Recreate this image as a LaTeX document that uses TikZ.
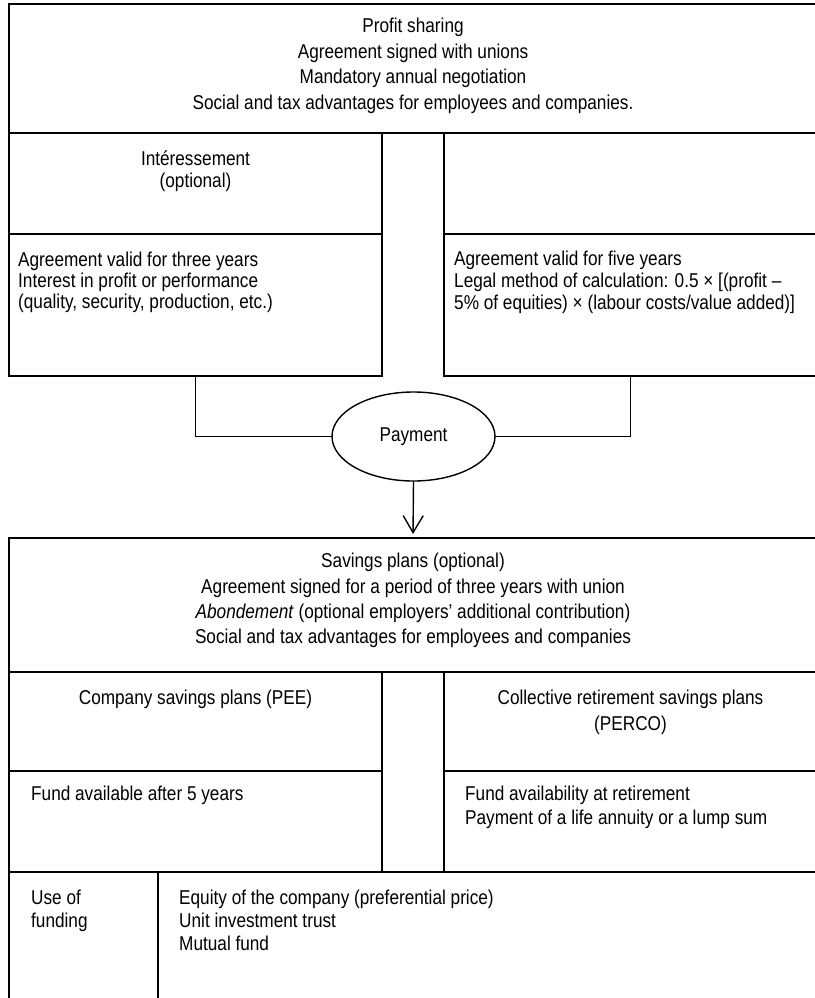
\documentclass[tikz,border=0pt]{standalone}
\usepackage{fontspec}
\setmainfont{Liberation Sans}[FakeStretch=0.86]
\usetikzlibrary{positioning, shapes.geometric, arrows.meta}

\begin{document}
\begin{tikzpicture}[
  x=1pt, y=-1pt,
  font=\fontsize{20}{24}\selectfont,
  box/.style={rectangle, draw=black, line width=1.4pt, inner sep=0pt, outer sep=0pt},
  wide/.style={minimum width=808pt},
  half/.style={minimum width=373pt},
  pay/.style={ellipse, draw=black, line width=1.4pt, inner sep=0pt, outer sep=0pt,
              minimum width=163pt, minimum height=89pt},
  ctxt/.style={inner sep=0pt, align=center, anchor=north},
  ltxt/.style={inner sep=0pt, align=left, anchor=north west},
  link/.style={line width=1.4pt, draw=black},
  arr/.style={-{Straight Barb[length=17pt, width=20pt, line width=1.4pt]}, line width=1.4pt, shorten >=4pt},
]
  \useasboundingbox (0,0) rectangle (814,998);

  % profit sharing part
  \node[box, wide, minimum height=129pt, anchor=north west] (profit) at (9,4) {};
  \node[box, half, minimum height=101pt, below right=0pt of profit.south west] (intHead) {};
  \node[box, half, minimum height=142pt, below=0pt of intHead] (intBody) {};
  \node[box, half, minimum height=101pt, below left=0pt of profit.south east] (partHead) {};
  \node[box, half, minimum height=142pt, below=0pt of partHead] (partBody) {};

  \node[ctxt, font=\fontsize{20}{25.5}\selectfont] (profitText) at ([yshift=-14pt]profit.north)
    {Profit sharing\\Agreement signed with unions\\Mandatory annual negotiation\\Social and tax advantages for employees and companies.};
  \node[ctxt, font=\fontsize{20}{22}\selectfont] (intHeadText) at ([yshift=-18pt]intHead.north)
    {Intéressement\\(optional)};
  \node[ltxt, font=\fontsize{20}{21}\selectfont] (intBodyText) at ([xshift=9pt, yshift=-18pt]intBody.north west)
    {Agreement valid for three years\\Interest in profit or performance\\(quality, security, production, etc.)};
  \node[ltxt, font=\fontsize{20}{22}\selectfont] (partBodyText) at ([xshift=10pt, yshift=-17pt]partBody.north west)
    {Agreement valid for five years\\Legal method of calculation: 0.5 × [(profit –\\5\% of equities) × (labour costs/value added)]};

  % payment
  \node[pay] (payment) at (413.5,436.5) {Payment};

  % savings plans part
  \node[box, wide, minimum height=134pt, anchor=north west] (savings) at (9,538) {};
  \node[box, half, minimum height=99pt, below right=0pt of savings.south west] (peeHead) {};
  \node[box, half, minimum height=101pt, below=0pt of peeHead] (peeBody) {};
  \node[box, half, minimum height=99pt, below left=0pt of savings.south east] (percoHead) {};
  \node[box, half, minimum height=101pt, below=0pt of percoHead] (percoBody) {};
  \node[box, minimum width=149pt, minimum height=140pt, below right=0pt of peeBody.south west] (use) {};
  \node[box, minimum width=659pt, minimum height=140pt, right=0pt of use] (funds) {};

  \node[ctxt, font=\fontsize{20}{25.3}\selectfont] (savingsText) at ([yshift=-15pt]savings.north)
    {Savings plans (optional)\\Agreement signed for a period of three years with union\\\textit{Abondement} (optional employers’ additional contribution)\\Social and tax advantages for employees and companies};
  \node[ctxt] (peeHeadText) at ([yshift=-18pt]peeHead.north)
    {Company savings plans (PEE)};
  \node[ctxt, font=\fontsize{20}{26}\selectfont] (percoHeadText) at ([yshift=-18pt]percoHead.north)
    {Collective retirement savings plans\\(PERCO)};
  \node[ltxt] (peeBodyText) at ([xshift=22pt, yshift=-15pt]peeBody.north west)
    {Fund available after 5 years};
  \node[ltxt] (percoBodyText) at ([xshift=21pt, yshift=-15pt]percoBody.north west)
    {Fund availability at retirement\\Payment of a life annuity or a lump sum};
  \node[ltxt, font=\fontsize{20}{23}\selectfont] (useText) at ([xshift=22pt, yshift=-18pt]use.north west)
    {Use of\\funding};
  \node[ltxt, font=\fontsize{20}{23}\selectfont] (fundsText) at ([xshift=21pt, yshift=-18pt]funds.north west)
    {Equity of the company (preferential price)\\Unit investment trust\\Mutual fund};

  % connectors
  \draw[link] (intBody.south) |- (payment.west);
  \draw[link] (partBody.south) |- (payment.east);
  \draw[arr] (payment.south) -- (savings.north);
\end{tikzpicture}
\end{document}
